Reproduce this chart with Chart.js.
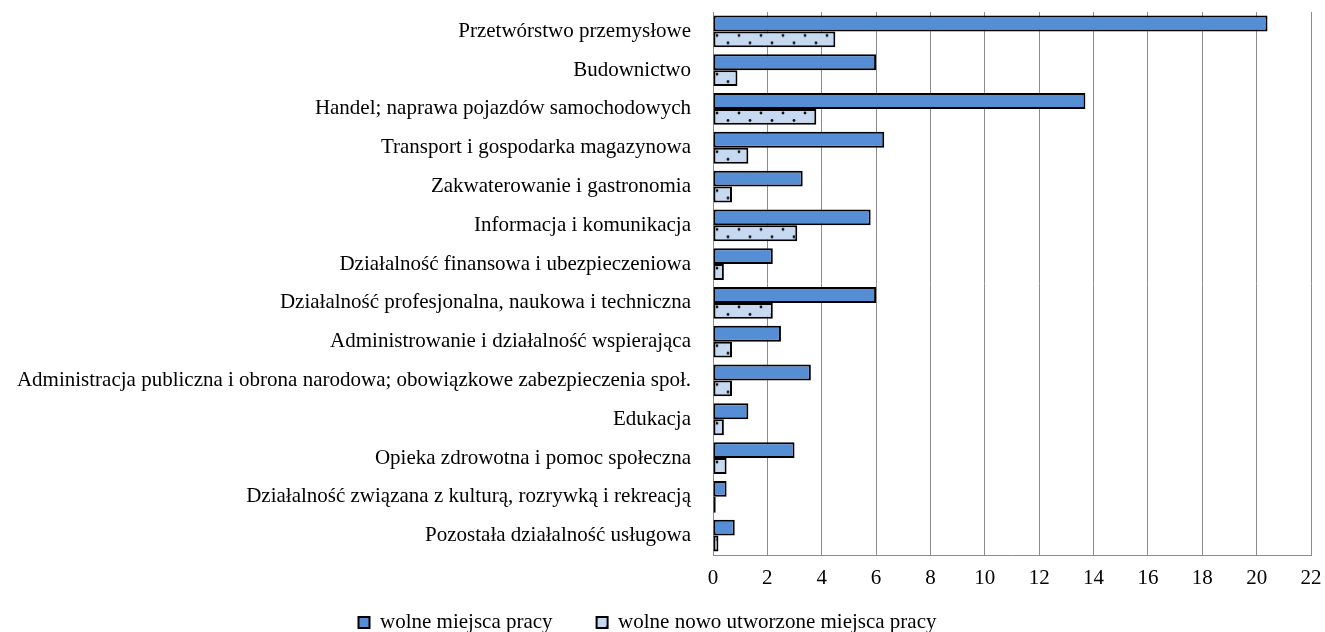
<!DOCTYPE html>
<html>
<head>
<meta charset="utf-8">
<script src="https://cdn.jsdelivr.net/npm/chart.js@4/dist/chart.umd.min.js"></script>
<style>
  html, body { margin: 0; padding: 0; background: #fff; }
  #wrap { width: 1325px; height: 632px; position: relative; }
</style>
</head>
<body>
<div id="wrap"><canvas id="chart"></canvas></div>
<script>
// ---- dane ----
const categories = [
  'Przetwórstwo przemysłowe',
  'Budownictwo',
  'Handel; naprawa pojazdów samochodowych',
  'Transport i gospodarka magazynowa',
  'Zakwaterowanie i gastronomia',
  'Informacja i komunikacja',
  'Działalność finansowa i ubezpieczeniowa',
  'Działalność profesjonalna, naukowa i techniczna',
  'Administrowanie i działalność wspierająca',
  'Administracja publiczna i obrona narodowa; obowiązkowe zabezpieczenia społ.',
  'Edukacja',
  'Opieka zdrowotna i pomoc społeczna',
  'Działalność związana z kulturą, rozrywką i rekreacją',
  'Pozostała działalność usługowa'
];
const wolneMiejsca = [20.4, 6.0, 13.7, 6.3, 3.3, 5.8, 2.2, 6.0, 2.5, 3.6, 1.3, 3.0, 0.5, 0.8];
const noweMiejsca = [4.5, 0.9, 3.8, 1.3, 0.7, 3.1, 0.4, 2.2, 0.7, 0.7, 0.4, 0.5, 0.1, 0.2];
const xTicks = [0, 2, 4, 6, 8, 10, 12, 14, 16, 18, 20, 22];
const seriesNames = ['wolne miejsca pracy', 'wolne nowo utworzone miejsca pracy'];

const FONT = "'Liberation Serif', 'Times New Roman', serif";
const gridColor = '#8c8c8c';

// kafelek wzoru w kropki dla drugiej serii
const tile = document.createElement('canvas');
tile.width = 22; tile.height = 16;
(function() {
  const g = tile.getContext('2d');
  g.fillStyle = '#c6d9f1';
  g.fillRect(0, 0, 22, 16);
  g.fillStyle = '#111';
  g.beginPath(); g.arc(4, 4, 1.4, 0, Math.PI * 2); g.fill();
  g.beginPath(); g.arc(15, 11.5, 1.4, 0, Math.PI * 2); g.fill();
})();

// wzór wyrównany do górnej krawędzi słupka
function dotted(ctx) {
  const chart = ctx.chart;
  const p = chart.ctx.createPattern(tile, 'repeat');
  const area = chart.chartArea;
  const y = chart.scales.y;
  if (area && y && ctx.dataIndex !== undefined) {
    const top = y.getPixelForValue(ctx.dataIndex);
    p.setTransform(new DOMMatrix().translate(area.left, top));
  }
  return p;
}

// legenda: stała wysokość i przesunięcie (w oryginale nie jest wyśrodkowana)
const legendFix = {
  id: 'legendFix',
  beforeLayout(chart) {
    const lg = chart.legend;
    if (lg && !lg._patched) {
      const fit = lg.fit.bind(lg);
      lg.fit = function() { fit(); this.height = 40; };
      lg._patched = true;
    }
  },
  afterLayout(chart) {
    const lg = chart.legend;
    if (!lg) return;
    lg.left -= 8;
    lg.right -= 8;
    lg.top = 623 - 44 - 11;
  }
};

Chart.defaults.font.family = FONT;
Chart.defaults.color = '#000';

new Chart(document.getElementById('chart'), {
  type: 'bar',
  data: {
    labels: categories,
    datasets: [{
      label: seriesNames[0],
      data: wolneMiejsca,
      backgroundColor: '#558ed5',
      borderColor: '#000',
      borderWidth: 2,
      borderSkipped: false
    }, {
      label: seriesNames[1],
      data: noweMiejsca,
      backgroundColor: dotted,
      borderColor: '#000',
      borderWidth: 2,
      borderSkipped: false
    }]
  },
  options: {
    indexAxis: 'y',
    responsive: true,
    maintainAspectRatio: false,
    animation: false,
    datasets: { bar: { categoryPercentage: 0.82, barPercentage: 1.0 } },
    layout: { padding: { top: 12, right: 14, left: 0, bottom: 0 } },
    plugins: {
      tooltip: { enabled: false },
      legend: {
        position: 'bottom',
        labels: {
          boxWidth: 11,
          boxHeight: 11,
          padding: 44,
          font: { size: 21, family: FONT },
          color: '#000'
        }
      }
    },
    scales: {
      x: {
        min: 0,
        max: 22,
        afterBuildTicks(scale) { scale.ticks = xTicks.map(v => ({ value: v })); },
        afterFit(scale) { scale.height = 37; scale.paddingLeft = 0; scale.paddingRight = 0; },
        grid: { color: gridColor, lineWidth: 1, drawTicks: false },
        border: { color: gridColor, width: 1 },
        ticks: { padding: 11, font: { size: 21, family: FONT }, color: '#000' }
      },
      y: {
        afterFit(scale) { scale.width = 713; scale.paddingTop = 0; scale.paddingBottom = 0; },
        grid: { display: false, drawTicks: false },
        border: { display: true, color: gridColor, width: 1 },
        ticks: { padding: 22, font: { size: 21, family: FONT }, color: '#000', autoSkip: false }
      }
    }
  },
  plugins: [legendFix]
});
</script>
</body>
</html>
